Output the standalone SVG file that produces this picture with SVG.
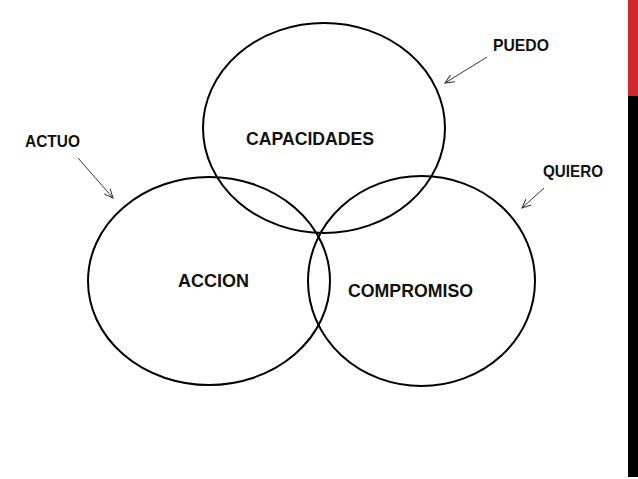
<svg xmlns="http://www.w3.org/2000/svg" width="638" height="479" viewBox="0 0 638 479">
<style>
.c{fill:none;stroke:#000;stroke-width:2}
.a{stroke:#333;stroke-width:1;fill:none}
.t{font-family:"Liberation Sans",Arial,sans-serif;font-weight:bold;fill:#111}
.s{font-size:16.5px}
.b{font-size:17.5px}
</style>
<defs>
<marker id="ah" viewBox="0 0 10 10" refX="9" refY="5" markerWidth="10" markerHeight="10" markerUnits="userSpaceOnUse" orient="auto">
<path d="M0,1 L9,5 L0,9" fill="none" stroke="#333" stroke-width="1"/>
</marker>
</defs>
<rect width="638" height="479" fill="#fff"/>
<rect x="628" y="0" width="10" height="96" fill="#d0282e"/>
<rect x="628" y="96" width="10" height="381" fill="#000"/>
<g id="capacidades">
<ellipse class="c" cx="324" cy="128" rx="121" ry="105"/>
<text class="t b" x="246" y="145" textLength="128" lengthAdjust="spacingAndGlyphs">CAPACIDADES</text>
</g>
<g id="accion">
<ellipse class="c" cx="209" cy="281" rx="121" ry="104"/>
<text class="t b" x="178" y="287" textLength="71" lengthAdjust="spacingAndGlyphs">ACCION</text>
</g>
<g id="compromiso">
<ellipse class="c" cx="421.5" cy="281" rx="113.5" ry="105"/>
<text class="t b" x="348" y="297" textLength="125" lengthAdjust="spacingAndGlyphs">COMPROMISO</text>
</g>
<g id="puedo"><text class="t s" x="493" y="51" textLength="56" lengthAdjust="spacingAndGlyphs">PUEDO</text></g>
<g id="actuo"><text class="t s" x="25" y="147" textLength="55" lengthAdjust="spacingAndGlyphs">ACTUO</text></g>
<g id="quiero"><text class="t s" x="543" y="177" textLength="60" lengthAdjust="spacingAndGlyphs">QUIERO</text></g>
<g id="connectors">
<line class="a" x1="487" y1="57" x2="445" y2="83" marker-end="url(#ah)"/>
<line class="a" x1="78" y1="158" x2="113" y2="198" marker-end="url(#ah)"/>
<line class="a" x1="544" y1="188" x2="522" y2="208" marker-end="url(#ah)"/>
</g>
</svg>
